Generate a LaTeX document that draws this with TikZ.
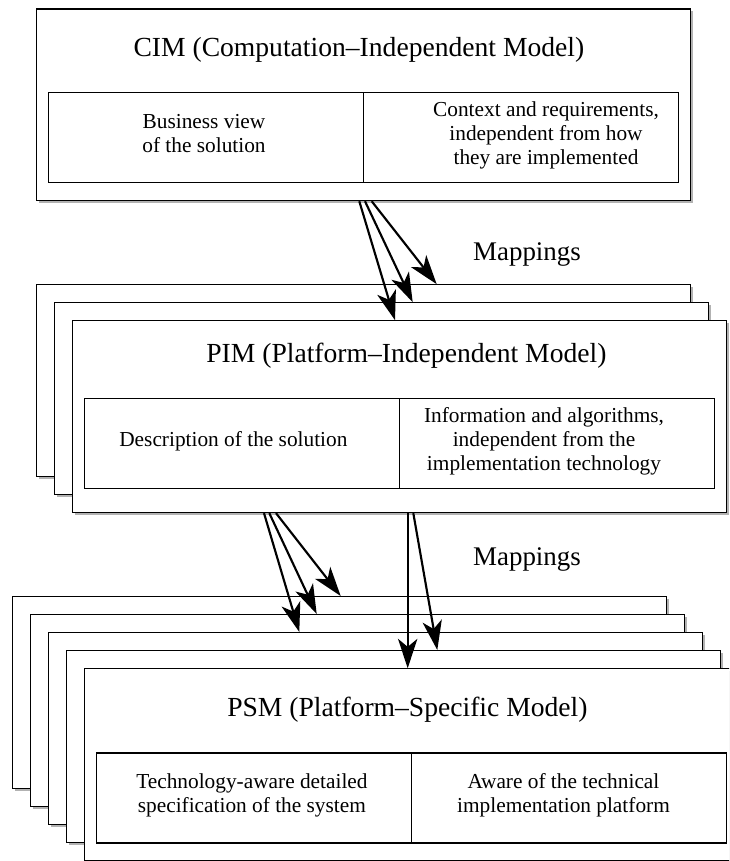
\documentclass[tikz,border=0pt]{standalone}
\usepackage{fontspec}
\setmainfont{Liberation Serif}
\usetikzlibrary{shadows,calc,arrows.meta}
\begin{document}
\begin{tikzpicture}[x=0.75pt,y=-0.75pt,
  model/.style={draw, line width=0.9pt, fill=white, minimum width=490.5pt, minimum height=143.8pt, anchor=north west, inner sep=0pt, drop shadow={shadow xshift=1.8pt, shadow yshift=-1.8pt, fill=black, opacity=0.3}},
  cell/.style={draw, line width=0.9pt, minimum width=236.25pt, minimum height=67.5pt, anchor=north west, inner sep=0pt},
  title/.style={font=\fontsize{20.7}{24}\selectfont, anchor=base, inner sep=0pt},
  body/.style={font=\fontsize{16}{17.8}\selectfont, align=center, anchor=base, inner sep=0pt},
  maplabel/.style={font=\fontsize{20.2}{24}\selectfont, anchor=base, inner sep=0pt},
  map/.style={-{Stealth[length=22pt,width=14.5pt,inset=6pt]}, line width=1.6pt},
]
\clip (0,0) rectangle (729,861);
\fill[white] (0,0) rectangle (729,861);

% CIM
\node[model] (cim) at (35.7,8.3) {};
\node[cell] (cimL) at (47.7,92) {};
\node[cell] (cimR) at (362.7,92) {};
\node[title] (cimT) at (358.9,56.7) {CIM (Computation–Independent Model)};
\node[body] (cimLt) at (204,152.3) {Business view\\of the solution};
\node[body] (cimRt) at (546,164) {Context and requirements,\\independent from how\\they are implemented};

% PIM
\node[model] (pim1) at (35.7,284.2) {};
\node[model] (pim2) at (53.6,302.2) {};
\node[model] (pim3) at (71.5,320.2) {};
\node[cell] (pimL) at (83.5,397.7) {};
\node[cell] (pimR) at (398.5,397.7) {};
\node[title] (pimT) at (406.4,362.7) {PIM (Platform–Independent Model)};
\node[body] (pimLt) at (233.4,446) {Description of the solution};
\node[body] (pimRt) at (544,470) {Information and algorithms,\\independent from the\\implementation technology};

% PSM
\node[model] (psm1) at (11.7,596) {};
\node[model] (psm2) at (29.7,614) {};
\node[model] (psm3) at (47.7,632) {};
\node[model] (psm4) at (65.7,650) {};
\node[model] (psm5) at (83.7,668.2) {};
\node[cell] (psmL) at (95.7,752.3) {};
\node[cell] (psmR) at (410.7,752.3) {};
\node[title] (psmT) at (407.4,716) {PSM (Platform–Specific Model)};
\node[body] (psmLt) at (251.9,812.3) {Technology-aware detailed\\specification of the system};
\node[body] (psmRt) at (563.5,812.3) {Aware of the technical\\implementation platform};

% labels
\node[maplabel] (map1) at (527,260) {Mappings};
\node[maplabel] (map2) at (527,565) {Mappings};

% mappings CIM -> PIM
\draw[map] ($(cim.south west)+(323.6,0)$) -- ($(pim3.north west)+(323.5,0)$);
\draw[map] ($(cim.south west)+(329.3,0)$) -- ($(pim2.north west)+(359.1,0)$);
\draw[map] ($(cim.south west)+(336,0)$) -- ($(pim1.north west)+(401,0)$);

% mappings PIM -> PSM
\draw[map] ($(pim3.south west)+(192.5,0)$) -- ($(psm3.north west)+(251.6,0)$);
\draw[map] ($(pim3.south west)+(197.8,0)$) -- ($(psm2.north west)+(287,0)$);
\draw[map] ($(pim3.south west)+(204.5,0)$) -- ($(psm1.north west)+(329,0)$);
\draw[map] ($(pim3.south west)+(336.2,0)$) -- ($(psm5.north west)+(324,0)$);
\draw[map] ($(pim3.south west)+(341.8,0)$) -- ($(psm4.north west)+(371.6,0)$);
\end{tikzpicture}
\end{document}
